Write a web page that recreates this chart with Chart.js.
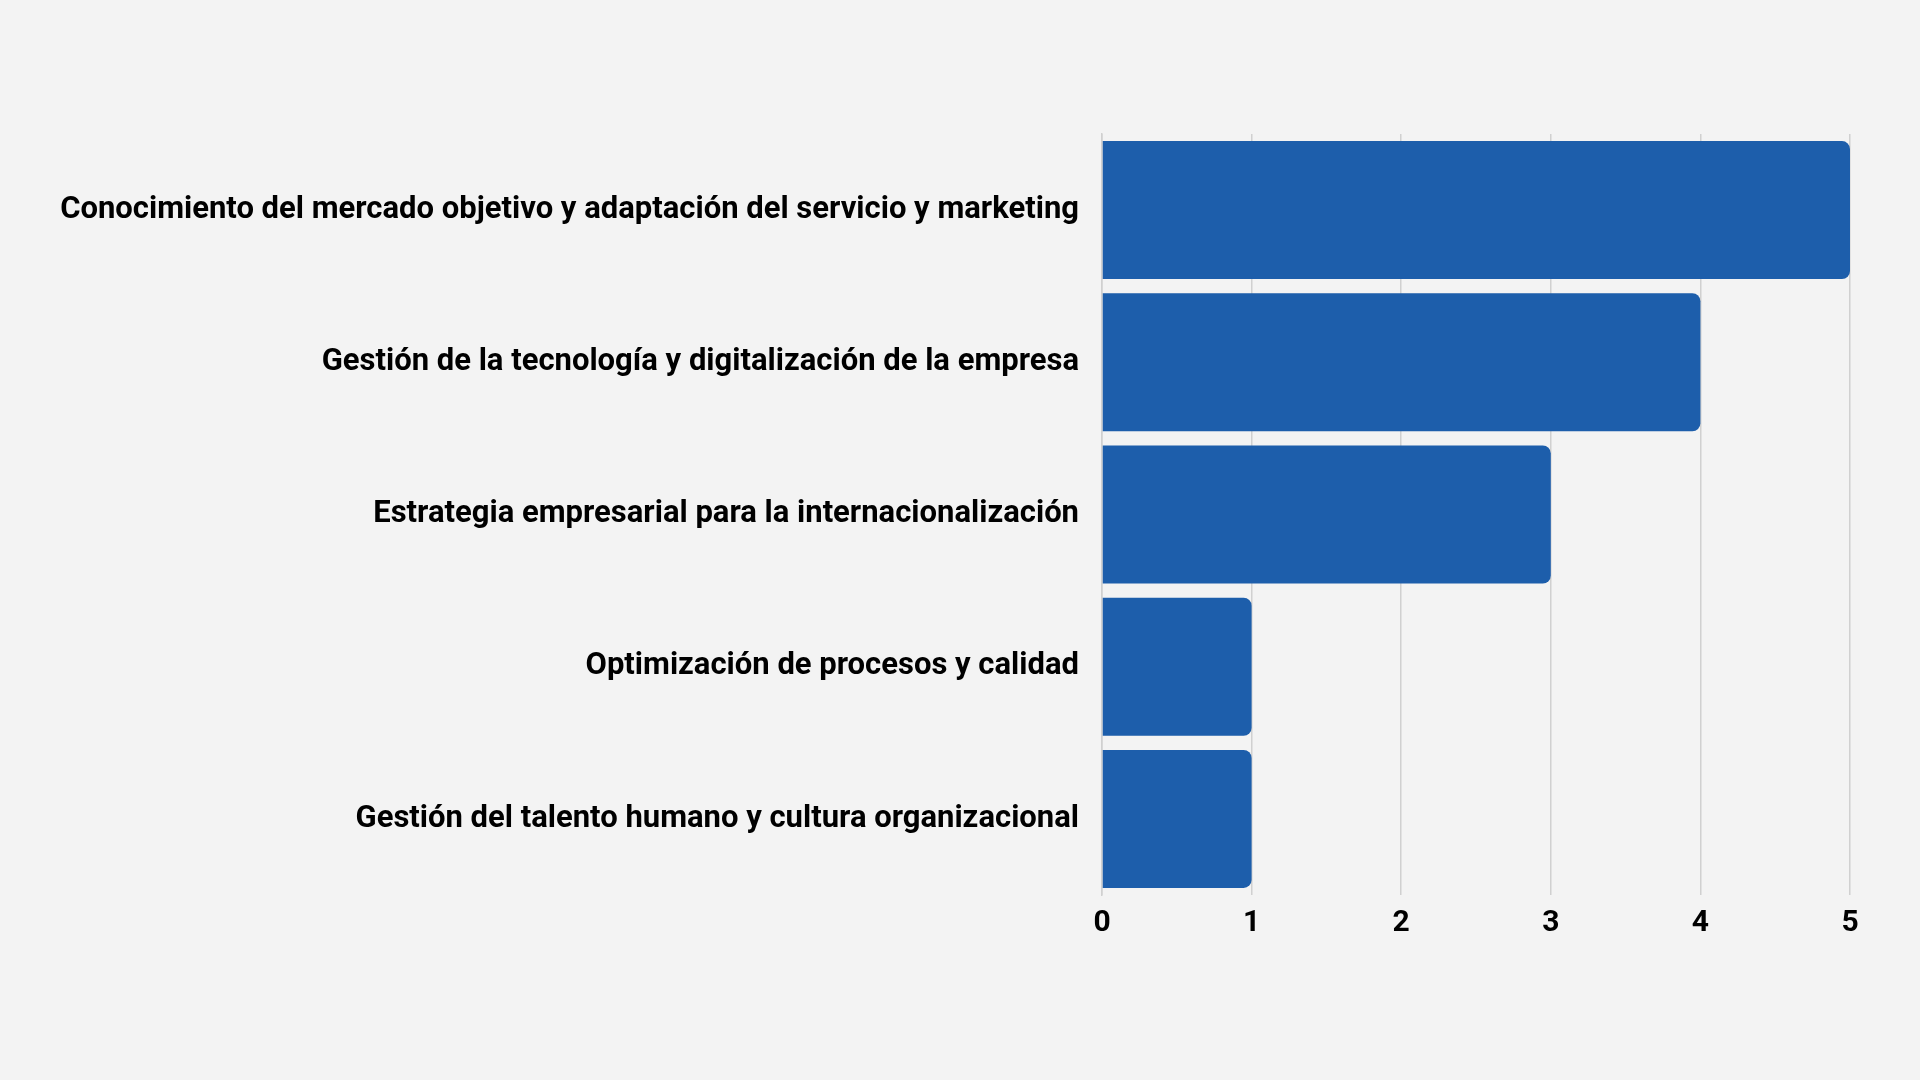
<!DOCTYPE html>
<html>
<head>
<meta charset="utf-8">
<script src="https://cdn.jsdelivr.net/npm/chart.js@4/dist/chart.umd.min.js"></script>
<style>
  html, body { margin: 0; padding: 0; background: #f3f3f3; }
  #wrap { width: 1920px; height: 1080px; }
</style>
</head>
<body>
<div id="wrap"><canvas id="chart" width="1920" height="1080"></canvas></div>
<script>
const categories = [
  'Conocimiento del mercado objetivo y adaptación del servicio y marketing',
  'Gestión de la tecnología y digitalización de la empresa',
  'Estrategia empresarial para la internacionalización',
  'Optimización de procesos y calidad',
  'Gestión del talento humano y cultura organizacional'
];
const values = [5, 4, 3, 1, 1];
const xTicks = [0, 1, 2, 3, 4, 5];

const ctx = document.getElementById('chart').getContext('2d');
new Chart(ctx, {
  type: 'bar',
  data: {
    labels: categories,
    datasets: [{
      data: values,
      backgroundColor: '#1d5eab',
      borderRadius: 8,
      borderSkipped: 'start',
      categoryPercentage: 1,
      barPercentage: 0.907
    }]
  },
  options: {
    indexAxis: 'y',
    responsive: false,
    animation: false,
    layout: { padding: { top: 134, right: 70, bottom: 129, left: 0 } },
    plugins: { legend: { display: false }, tooltip: { enabled: false } },
    scales: {
      x: {
        min: 0,
        max: 5,
        afterBuildTicks: (scale) => { scale.ticks = xTicks.map(v => ({ value: v })); },
        grid: { color: '#d0d0d0', lineWidth: 1.5, drawTicks: false },
        border: { display: false },
        ticks: {
          padding: 10,
          color: '#000',
          font: { family: 'Roboto', size: 30, weight: 'bold' }
        }
      },
      y: {
        afterFit: (scale) => { scale.width = 1102; },
        grid: { display: false, drawTicks: false },
        border: { display: true, color: '#d0d0d0', width: 1.5 },
        ticks: {
          padding: 23,
          color: '#000',
          font: { family: 'Roboto', size: 31, weight: 'bold' }
        }
      }
    }
  },
  plugins: [{
    id: 'bg',
    beforeDraw: (chart) => {
      const c = chart.ctx;
      c.save();
      c.fillStyle = '#f3f3f3';
      c.fillRect(0, 0, chart.width, chart.height);
      c.restore();
    }
  }]
});
</script>
</body>
</html>
